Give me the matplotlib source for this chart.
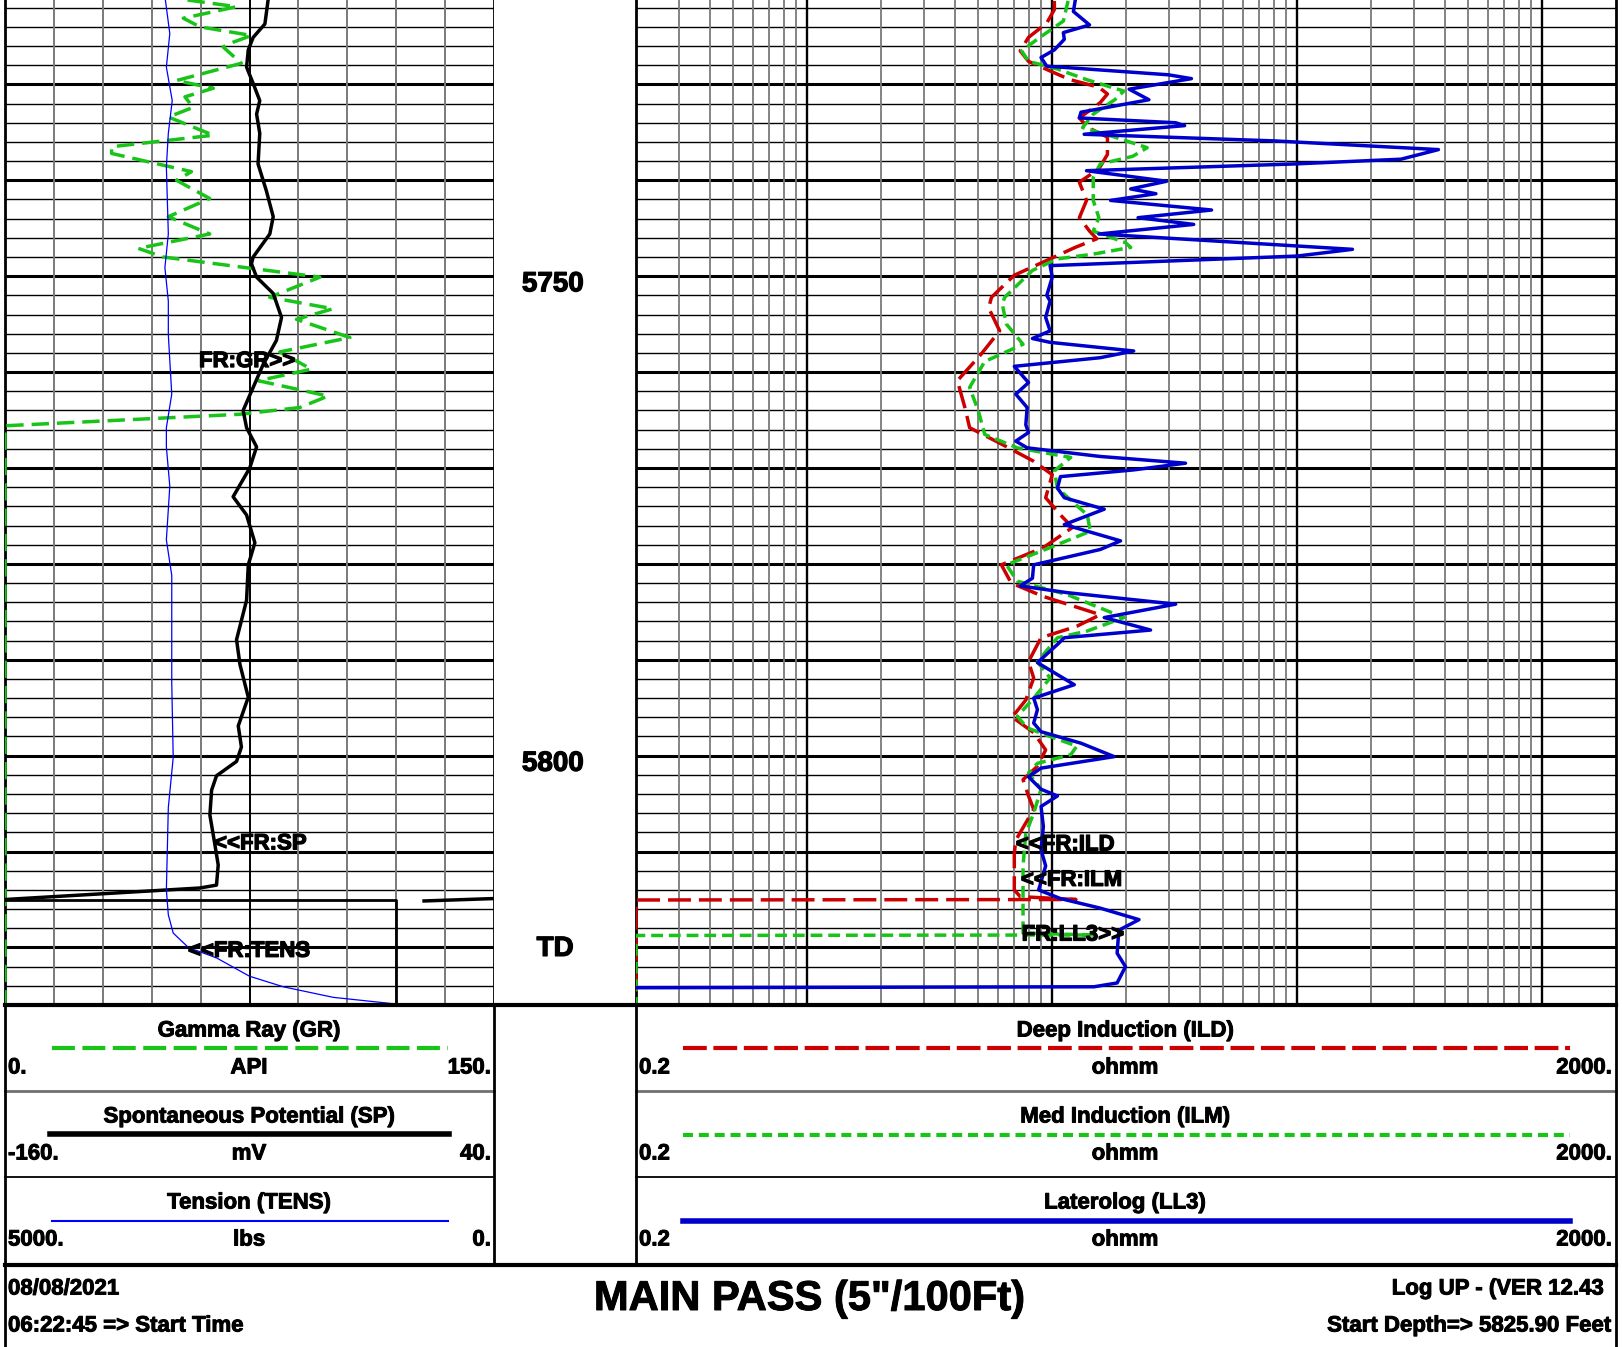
import numpy as np
import matplotlib.pyplot as plt
import matplotlib.patheffects as pe
from matplotlib.lines import Line2D

plt.rcParams['font.family'] = ['Liberation Sans', 'DejaVu Sans']
plt.rcParams['font.weight'] = 'bold'

# ---- curve data (depth in feet) ----
gr_depth = [5721.2, 5721.9, 5723.1, 5724.0, 5724.9, 5725.6, 5726.1, 5727.8, 5729.6, 5730.4,
            5731.3, 5732.4, 5733.4, 5735.3, 5736.5, 5737.2, 5739.1, 5740.0, 5741.9, 5743.8,
            5745.6, 5747.1, 5748.0, 5750.1, 5752.2, 5753.4, 5754.5, 5756.4, 5757.9, 5759.7,
            5760.9, 5762.5, 5763.7, 5764.4, 5765.6, 5826.0]
gr = [56, 71, 54.7, 59.8, 75.6, 70.0, 66.9, 72.5, 52.6, 63.9,
      55.2, 57.7, 50.1, 63.9, 32.7, 32.7, 57.2, 52.6, 62.8, 50.1,
      62.8, 40.9, 48.5, 96.6, 81.2, 100.6, 89.4, 105.8, 84.3, 94.0,
      77.7, 99.1, 90.4, 72.0, 0, 0]

sp_depth = [5721.2, 5723.7, 5725.1, 5726.4, 5728.2, 5729.9, 5731.7, 5733.1, 5735.1, 5738.3,
            5741.1, 5743.8, 5745.6, 5748.0, 5748.7, 5750.1, 5751.8, 5754.3, 5756.7, 5759.2,
            5761.6, 5764.0, 5765.8, 5767.8, 5770.0, 5773.0, 5774.9, 5777.8, 5780.1, 5783.8,
            5787.9, 5790.5, 5793.9, 5796.9, 5799.1, 5800.6, 5802.1, 5803.6, 5806.2, 5809.2,
            5811.4, 5813.5, 5813.8, 5815.0]
sp = [-52.4, -53.7, -58.5, -60.5, -61.2, -58.5, -55.8, -57.1, -55.8, -56.5,
      -53.1, -50.3, -51.7, -58.5, -59.2, -57.1, -50.3, -46.9, -49.0, -54.4,
      -58.5, -62.6, -61.2, -57.1, -59.9, -66.7, -61.2, -57.8, -60.5, -61.2,
      -65.3, -63.9, -60.5, -64.6, -63.3, -65.3, -73.5, -75.5, -76.2, -74.2,
      -72.8, -73.5, -80.3, -160]
sp_box_depth = [5815.1, 5815.1, 5826.0]
sp_box = [-160, 0, 0]
sp_stub_depth = [5815.15, 5814.9]
sp_stub = [11.4, 40]

tens_depth = [5721.2, 5724.7, 5728.2, 5731.7, 5735.1, 5738.6, 5745.6, 5749.1, 5752.6, 5756.1,
              5762.3, 5765.8, 5767.8, 5771.9, 5777.5, 5781.2, 5786.8, 5792.4, 5800.2, 5805.4,
              5814.0, 5816.6, 5818.5, 5820.0, 5821.1, 5823.0, 5824.1, 5825.2, 5825.9]
tens = [3360, 3315, 3350, 3290, 3330, 3350, 3330, 3365, 3330, 3330,
        3295, 3350, 3350, 3315, 3350, 3295, 3295, 3295, 3280, 3330,
        3350, 3330, 3280, 3125, 2835, 2500, 2155, 1645, 1000]

ll3_depth = [5721.3, 5722.4, 5723.8, 5724.6, 5725.3, 5726.4, 5727.2, 5728.1, 5729.0, 5729.4,
             5730.5, 5731.6, 5732.9, 5733.5, 5734.0, 5734.3, 5735.2, 5735.9, 5736.8, 5737.8,
             5738.3, 5739.0, 5740.1, 5740.9, 5741.4, 5742.1, 5743.1, 5743.9, 5744.6, 5745.6,
             5747.2, 5747.9, 5748.9, 5750.1, 5752.0, 5752.6, 5754.3, 5755.7, 5756.5, 5756.9,
             5757.8, 5758.5, 5759.4, 5761.1, 5762.3, 5763.7, 5765.5, 5766.3, 5767.2, 5767.9,
             5768.8, 5769.5, 5770.2, 5770.9, 5772.1, 5773.1, 5774.3, 5775.9, 5777.6, 5778.5,
             5780.1, 5781.5, 5782.3, 5783.0, 5784.2, 5785.6, 5786.9, 5787.7, 5788.4, 5790.3,
             5792.6, 5794.0, 5795.2, 5796.6, 5797.5, 5798.7, 5800.1, 5801.3, 5802.2, 5803.5,
             5804.2, 5805.3, 5807.4, 5809.8, 5811.5, 5814.0, 5814.9, 5815.9, 5817.1, 5818.2,
             5820.6, 5822.0, 5823.7, 5824.1, 5824.2]
ll3 = [12.4, 12.2, 14.2, 11.1, 11.2, 10.2, 9.0, 9.5, 29.8, 37.0,
       20.6, 24.8, 13.1, 12.9, 31.9, 34.7, 13.5, 81.7, 377, 265,
       96.6, 13.8, 29.3, 20.9, 26.5, 17.3, 44.7, 22.4, 37.8, 15.5,
       168, 100, 9.8, 10.0, 9.5, 9.8, 9.4, 9.8, 8.3, 9.8,
       21.5, 15.7, 7.0, 8.0, 7.1, 7.9, 7.8, 8.0, 7.1, 7.9,
       15.7, 35.0, 21.5, 10.8, 10.5, 11.2, 16.3, 11.2, 19.0, 15.7,
       8.4, 8.3, 7.4, 11.5, 31.9, 16.3, 25.2, 11.2, 10.5, 8.7,
       12.3, 8.4, 8.7, 8.4, 9.0, 13.1, 17.9, 9.0, 8.0, 9.0,
       10.5, 9.0, 9.2, 9.0, 9.4, 8.8, 10.8, 15.7, 22.6, 18.7,
       18.4, 19.9, 18.4, 14.8, 0.2]

ild_depth = [5721.3, 5722.2, 5723.6, 5725.1, 5726.5, 5727.6, 5728.6, 5729.5, 5730.3, 5731.0,
             5731.9, 5733.5, 5734.5, 5735.5, 5737.3, 5738.8, 5740.2, 5742.1, 5743.9, 5745.3,
             5746.1, 5747.0, 5748.2, 5749.9, 5752.2, 5753.3, 5755.7, 5758.2, 5760.9, 5763.7,
             5765.8, 5767.5, 5769.3, 5770.7, 5773.1, 5774.9, 5776.2, 5778.3, 5780.1, 5782.0,
             5783.4, 5785.3, 5786.5, 5787.7, 5790.2, 5791.9, 5794.2, 5795.5, 5795.9, 5797.6,
             5799.4, 5801.1, 5802.5, 5804.2, 5805.6, 5808.8, 5810.2, 5814.0, 5814.7, 5815.0,
             5815.05, 5826.0]
ild = [10.2, 10.2, 9.5, 8.0, 7.4, 8.0, 9.8, 11.8, 15.5, 16.8,
       15.7, 12.9, 14.0, 16.8, 16.8, 15.5, 12.9, 13.8, 12.9, 14.2,
       15.2, 12.4, 9.8, 7.0, 5.65, 5.5, 6.1, 5.1, 4.1, 4.4,
       4.6, 6.2, 8.4, 10.0, 9.4, 10.8, 12.1, 9.2, 6.2, 6.8,
       9.2, 15.7, 12.6, 9.0, 8.0, 8.4, 7.8, 7.1, 6.8, 8.4,
       9.4, 8.7, 7.6, 8.0, 8.4, 7.1, 7.0, 7.0, 7.4, 12.5,
       0.2, 0.2]

ilm_depth = [5721.3, 5723.4, 5725.1, 5726.5, 5727.6, 5728.4, 5729.5, 5730.7, 5731.6, 5733.1,
             5734.5, 5735.5, 5736.6, 5737.5, 5738.3, 5739.7, 5742.1, 5743.9, 5745.3, 5746.5,
             5747.0, 5747.7, 5748.2, 5749.4, 5752.2, 5752.9, 5755.0, 5757.1, 5758.9, 5761.6,
             5764.1, 5766.5, 5767.9, 5768.9, 5770.3, 5772.1, 5774.9, 5776.6, 5778.3, 5780.1,
             5781.8, 5783.2, 5785.6, 5787.0, 5787.7, 5790.2, 5791.9, 5794.0, 5795.9, 5797.1,
             5798.0, 5799.0, 5799.9, 5800.8, 5801.8, 5803.5, 5806.0, 5808.1, 5811.5, 5818.5,
             5818.7, 5818.75, 5826.0]
ilm = [11.6, 11.1, 8.9, 7.5, 8.0, 10.5, 13.8, 19.6, 18.0, 14.7,
       13.3, 18.0, 24.4, 21.3, 15.7, 14.7, 14.7, 15.5, 14.7, 19.9,
       20.9, 14.7, 10.5, 8.3, 6.4, 6.25, 6.5, 7.6, 5.3, 4.6,
       5.0, 5.3, 7.2, 11.9, 10.2, 10.5, 13.9, 14.3, 9.8, 6.5,
       7.2, 11.5, 19.6, 13.9, 10.5, 8.7, 9.8, 8.4, 7.2, 7.9,
       9.8, 12.6, 11.9, 8.7, 8.0, 9.0, 8.4, 7.8, 7.6, 7.6,
       14.8, 0.2, 0.2]

depth_labels = [5750, 5800]

# ---- layout ----
W, H = 1622, 1347
TOP_D, BOT_D = 5721.2, 5826.0
PLOT_H = 1005
GREEN = '#18c418'
RED = '#cc0000'
BLUE = '#0000cc'
HEAVY = [pe.withStroke(linewidth=0.9, foreground='black')]

fig = plt.figure(figsize=(W / 100, H / 100), dpi=100)


def rect(x0, x1):
    return [x0 / W, 1 - PLOT_H / H, (x1 - x0) / W, PLOT_H / H]


def bare(ax):
    ax.tick_params(which='both', bottom=False, top=False, left=False, right=False,
                   labelbottom=False, labeltop=False, labelleft=False, labelright=False)


ax1 = fig.add_axes(rect(5, 494))
axd = fig.add_axes(rect(494, 636))
ax2 = fig.add_axes(rect(636, 1616))
ax_sp = ax1.twiny()
ax_tens = ax1.twiny()
for ax in (ax1, axd, ax2, ax_sp, ax_tens):
    bare(ax)
    for s in ax.spines.values():
        s.set_visible(False)
for ax in (ax1, axd, ax2):
    ax.set_ylim(BOT_D, TOP_D)
for ax in (ax1, ax2):
    ax.spines['left'].set_visible(True)
    ax.spines['right'].set_visible(True)
    ax.spines['left'].set_linewidth(2)
    ax.spines['right'].set_linewidth(2)

ax1.set_xlim(0, 150)
ax_sp.set_xlim(-160, 40)
ax_tens.set_xlim(5000, 0)
ax2.set_xscale('log')
ax2.set_xlim(0.2, 2000)
axd.set_xlim(0, 1)
bare(ax2)

# grid
for d in np.arange(5722, 5826, 2):
    heavy = d % 10 == 0
    for ax in (ax1, ax2):
        ax.axhline(d, color='black', lw=2.2 if heavy else 1.0, zorder=1)
for k in range(1, 10):
    ax1.axvline(k * 15, color='black' if k == 5 else '#7a7a7a', lw=1.4, zorder=1)
for e in range(-1, 4):
    for m in range(1, 10):
        v = m * 10.0 ** e
        if 0.2 < v < 2000:
            ax2.axvline(v, color='black' if m == 1 else '#7a7a7a',
                        lw=1.7 if m == 1 else 1.3, zorder=1)

# track 1 curves
ax_tens.plot(tens, tens_depth, color='#0000ff', lw=0.9)
ax_sp.plot(sp, sp_depth, color='black', lw=2.5)
ax_sp.plot(sp_box, sp_box_depth, color='black', lw=2.0)
ax_sp.plot(sp_stub, sp_stub_depth, color='black', lw=2.5)
ax1.plot(gr, gr_depth, color=GREEN, lw=2.5, ls=(0, (5, 2.3)), zorder=3)

lab = dict(fontsize=16, ha='left', va='center', zorder=5, path_effects=HEAVY)
ax1.text(59.5, 5758.9, 'FR:GR>>', **lab)
ax_sp.text(-74.5, 5809.2, '<<FR:SP', **lab)
ax_tens.text(3130, 5820.4, '<<FR:TENS', **lab)

# track 2 curves
ax2.plot(ild, ild_depth, color=RED, lw=2.5, ls=(0, (6.6, 2.3)), zorder=3)
ax2.plot(ilm, ilm_depth, color=GREEN, lw=2.5, ls=(0, (3.4, 1.7)), zorder=3)
ax2.plot(ll3, ll3_depth, color=BLUE, lw=2.5, zorder=3)
ax2.text(7.1, 5809.3, '<<FR:ILD', **lab)
ax2.text(7.45, 5813.0, '<<FR:ILM', **lab)
ax2.text(7.5, 5818.7, 'FR:LL3>>', **lab)

# depth track
for d in depth_labels:
    axd.text(0.415, d + 0.85, str(d), fontsize=20, ha='center', va='center',
             path_effects=HEAVY)
axd.text(0.43, 5820.15, 'TD', fontsize=20, ha='center', va='center', path_effects=HEAVY)


# ---- header / footer ----
def hline(x0, x1, y, **kw):
    fig.add_artist(Line2D([x0 / W, x1 / W], [1 - y / H, 1 - y / H], **kw))


def vline(x, y0, y1, **kw):
    fig.add_artist(Line2D([x / W, x / W], [1 - y0 / H, 1 - y1 / H], **kw))


def txt(x, y, s, size=16, ha='left'):
    fig.text(x / W, 1 - y / H, s, fontsize=size, ha=ha, va='center',
             path_effects=[pe.withStroke(linewidth=0.7, foreground='black')])


hline(5, 1616, 1005, color='black', lw=3)
hline(5, 1616, 1265, color='black', lw=3)
for x0, x1 in ((5, 494), (636, 1616)):
    hline(x0, x1, 1091, color='#707070', lw=2)
    hline(x0, x1, 1177, color='black', lw=1.3)
vline(5, 1005, 1347, color='black', lw=2)
vline(494, 1005, 1265, color='black', lw=2)
vline(636, 1005, 1265, color='black', lw=2)
vline(1616, 1005, 1347, color='black', lw=2)

rows = [1031, 1117, 1203]
left_hdr = [('Gamma Ray (GR)', '0.', 'API', '150.'),
            ('Spontaneous Potential (SP)', '-160.', 'mV', '40.'),
            ('Tension (TENS)', '5000.', 'lbs', '0.')]
right_hdr = [('Deep Induction (ILD)', '0.2', 'ohmm', '2000.'),
             ('Med Induction (ILM)', '0.2', 'ohmm', '2000.'),
             ('Laterolog (LL3)', '0.2', 'ohmm', '2000.')]
for y, (name, lo, unit, hi) in zip(rows, left_hdr):
    txt(249, y, name, ha='center')
    txt(8, y + 37, lo)
    txt(249, y + 37, unit, ha='center')
    txt(491, y + 37, hi, ha='right')
for y, (name, lo, unit, hi) in zip(rows, right_hdr):
    txt(1125, y, name, ha='center')
    txt(639, y + 37, lo)
    txt(1125, y + 37, unit, ha='center')
    txt(1612, y + 37, hi, ha='right')

hline(52, 448, 1048, color=GREEN, lw=3, ls=(0, (5.5, 1.8)))
hline(50, 449, 1134, color='black', lw=4)
hline(52, 448, 1221, color='#0000ff', lw=1.5)
hline(683, 1570, 1048, color=RED, lw=3, ls=(0, (5.7, 1.6)))
hline(683, 1570, 1135, color=GREEN, lw=3, ls=(0, (2.4, 1.4)))
hline(683, 1570, 1221, color=BLUE, lw=4)

txt(8, 1289, '08/08/2021')
txt(8, 1326, '06:22:45 => Start Time')
txt(809, 1299, 'MAIN PASS (5"/100Ft)', size=30, ha='center')
txt(1604, 1289, 'Log UP - (VER 12.43', ha='right')
txt(1611, 1326, 'Start Depth=> 5825.90 Feet', ha='right')

fig.savefig('out.png', dpi=100)
